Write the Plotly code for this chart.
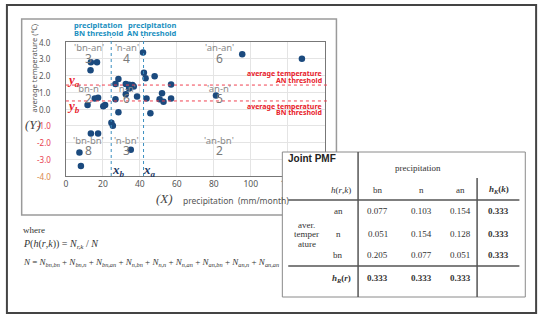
import plotly.graph_objects as go

W, H = 550, 321

# ---------------- data ----------------
precip = [13.5, 16.8, 13.3,
          41.7, 28.4, 26.8, 32.4,
          42.2, 43.1, 48.0, 56.9, 95.4, 127.7,
          34.2, 36.0, 36.7, 34.2, 32.4, 38.5, 26.8,
          52.0, 43.6, 50.7, 56.9, 81.2,
          15.6, 17.4,
          11.7, 20.2, 21.2, 13.5, 17.4, 7.3, 8.1,
          28.4, 24.6, 25.4, 35.1,
          52.8, 45.7]
temp = [2.79, 2.79, 2.31,
        3.38, 1.79, 1.49, 1.49,
        2.17, 1.83, 1.95, 1.47, 3.27, 3.0,
        1.45, 1.43, 1.35, 1.23, 0.88, 0.75, 0.58,
        0.94, 0.62, 0.58, 0.62, 0.80,
        0.62, 0.67,
        0.24, 0.17, 0.24, -1.47, -1.47, -2.59, -3.40,
        -0.20, -0.82, -1.00, -2.43,
        0.44, -0.26]

x_bn_threshold = 24.5
x_an_threshold = 42.0
y_an_threshold = 1.43
y_bn_threshold = 0.48

quad_names = ["'bn-an'", "'n-an'", "'an-an'",
              "'bn-n'", "'n-n'", "'an-n'",
              "'bn-bn'", "'n-bn'", "'an-bn'"]
quad_counts = [3, 4, 6, 2, 6, 5, 8, 3, 2]

y_ticks = [-4, -3, -2, -1, 0, 1, 2, 3, 4]
x_ticks = [0, 20, 40, 60, 80, 100, 120, 140]

pmf_rows = ["an", "n", "bn"]
pmf_cols = ["bn", "n", "an"]
pmf = [[0.077, 0.103, 0.154],
       [0.051, 0.154, 0.128],
       [0.205, 0.077, 0.051]]
marg_k = [0.333, 0.333, 0.333]
marg_r = [0.333, 0.333, 0.333]

# ---------------- geometry helpers ----------------
def px(x):
    return x / W

def py(y):
    return 1 - y / H

PL, PR, PT, PB = 65, 328, 42, 176

SANS = "Noto Sans, Liberation Sans, sans-serif"
SERIF = "Liberation Serif, DejaVu Serif, serif"
NARROW = "Liberation Sans Narrow, Liberation Sans, sans-serif"

fig = go.Figure()

fig.add_trace(go.Scatter(
    x=precip, y=temp, mode="markers",
    marker=dict(size=6.5, color="#1b4a7e"),
    hoverinfo="skip", showlegend=False))

fig.update_layout(
    width=W, height=H,
    margin=dict(l=0, r=0, t=0, b=0),
    paper_bgcolor="white", plot_bgcolor="white",
    xaxis=dict(domain=[px(PL), px(PR)], range=[0, 140],
               tickvals=x_ticks, ticktext=[str(v) for v in x_ticks],
               showgrid=True, gridcolor="#e4e4e4", gridwidth=1,
               zeroline=False, showline=True, linecolor="#777", linewidth=1,
               mirror=True, ticks="",
               tickfont=dict(family=SANS, size=8.5, color="#555")),
    yaxis=dict(domain=[py(PB), py(PT)], range=[-4, 4],
               tickvals=y_ticks, showticklabels=False,
               showgrid=True, gridcolor="#e4e4e4", gridwidth=1,
               zeroline=False, showline=True, linecolor="#777", linewidth=1,
               mirror=True, ticks=""),
)

# y tick labels placed through the y axis scale
for v in y_ticks:
    col = "#555" if v >= 0 else ("#d9884a" if v < -3.5 else "#e8404f")
    fig.add_annotation(x=px(51), y=v, xref="paper", yref="y",
                       text=f"{v:.1f}", showarrow=False, xanchor="right",
                       yanchor="middle", borderpad=0,
                       font=dict(family=SANS, size=8, color=col))

# ---------------- frames ----------------
fig.add_shape(type="rect", xref="paper", yref="paper",
              x0=px(5), x1=px(543), y0=py(313), y1=py(5),
              line=dict(color="#444", width=2), fillcolor="rgba(0,0,0,0)", layer="below")
fig.add_shape(type="rect", xref="paper", yref="paper",
              x0=px(20), x1=px(340), y0=py(215), y1=py(19),
              line=dict(color="#9a9a9a", width=1.5), fillcolor="rgba(0,0,0,0)", layer="below")

# ---------------- threshold lines ----------------
for xv in (x_bn_threshold, x_an_threshold):
    fig.add_shape(type="line", xref="x", yref="paper",
                  x0=xv, x1=xv, y0=py(PB), y1=py(37),
                  line=dict(color="#3a8fc0", width=1, dash="dot"), layer="above")
for yv in (y_an_threshold, y_bn_threshold):
    fig.add_shape(type="line", xref="paper", yref="y",
                  x0=px(PL), x1=px(332), y0=yv, y1=yv,
                  line=dict(color="#f04050", width=1, dash="dot"), layer="above")

def txt(x, y, text, size, color, family=SANS, xanchor="center", angle=0):
    fig.add_annotation(x=px(x), y=py(y), xref="paper", yref="paper",
                       text=text, showarrow=False, textangle=angle,
                       font=dict(size=size, color=color, family=family),
                       xanchor=xanchor, yanchor="middle", borderpad=0)

# threshold labels
BLUE = "#1a8fc0"
txt(98, 25, "<b>precipitation</b>", 7.5, BLUE)
txt(98, 33, "<b>BN threshold</b>", 7.5, BLUE)
txt(153, 25, "<b>precipitation</b>", 7.5, BLUE)
txt(153, 33, "<b>AN threshold</b>", 7.5, BLUE)
RED = "#e8202a"
txt(326, 73, "<b>average temperature</b>", 7, RED, xanchor="right")
txt(326, 80, "<b>AN threshold</b>", 7, RED, xanchor="right")
txt(326, 106, "<b>average temperature</b>", 7, RED, xanchor="right")
txt(326, 113, "<b>BN threshold</b>", 7, RED, xanchor="right")

txt(73, 80, "<b><i>y<sub>a</sub></i></b>", 13, "#e8202a", family=SERIF)
txt(73, 107, "<b><i>y<sub>b</sub></i></b>", 13, "#e8202a", family=SERIF)
txt(118, 171, "<b><i>x<sub>b</sub></i></b>", 13, "#1f3a66", family=SERIF)
txt(150, 171, "<b><i>x<sub>a</sub></i></b>", 13, "#1f3a66", family=SERIF)

# quadrant labels
qx = [88, 127, 221]
qy_name = [47, 88, 141]
qy_num = [58, 98, 151]
for i, (nm, cnt) in enumerate(zip(quad_names, quad_counts)):
    r, c = divmod(i, 3)
    txt(qx[c], qy_name[r], nm, 9.5, "#8a8a8a")
    txt(qx[c], qy_num[r], str(cnt), 12, "#7a7a7a")

# axis titles
txt(33, 68, "average temperature (\u2103)", 7.5, "#555", angle=-90)
txt(32, 125, "<i>(Y)</i>", 13, "#444", family=SERIF)
txt(165, 198, "<i>(X)</i>", 13, "#444", family=SERIF)
txt(238, 200, "precipitation  (mm/month)", 8.5, "#555")

# equations
txt(20, 230, "where", 9, "#333", family=SERIF, xanchor="left")
txt(20, 244, "<i>P</i>(<i>h</i>(<i>r</i>,<i>k</i>)) = <i>N</i><sub><i>r,k</i></sub> / <i>N</i>",
    10, "#333", family=SERIF, xanchor="left")
terms = ["bn,bn", "bn,n", "bn,an", "n,bn", "n,n", "n,an", "an,bn", "an,n", "an,an"]
eq = "<i>N</i> = " + " + ".join(f"<i>N</i><sub><i>{t}</i></sub>" for t in terms)
txt(20, 262, eq, 9, "#333", family=SERIF, xanchor="left")

# ---------------- table ----------------
TL, TR, TT, TB = 285, 532, 152, 297
fig.add_shape(type="rect", xref="paper", yref="paper",
              x0=px(TL), x1=px(TR), y0=py(TB), y1=py(TT),
              line=dict(color="#8a8a8a", width=1), fillcolor="white", layer="above")
fig.add_shape(type="line", xref="paper", yref="paper",
              x0=px(362), x1=px(362), y0=py(TB), y1=py(TT),
              line=dict(color="#555", width=1.5), layer="above")
fig.add_shape(type="line", xref="paper", yref="paper",
              x0=px(483), x1=px(483), y0=py(TB), y1=py(178),
              line=dict(color="#555", width=1.5), layer="above")
for yl in (200, 266):
    fig.add_shape(type="line", xref="paper", yref="paper",
                  x0=px(291), x1=px(526), y0=py(yl), y1=py(yl),
                  line=dict(color="#555", width=1.5), layer="above")

txt(290, 159, "<b>Joint PMF</b>", 10, "#222", family=NARROW, xanchor="left")
txt(423, 168, "precipitation", 9, "#333", family=SERIF)
TC = "#333"
txt(345, 190, "<i>h</i>(<i>r</i>,<i>k</i>)", 9, TC, family=SERIF)
col_x = [382, 426, 466]
for cx, cn in zip(col_x, pmf_cols):
    txt(cx, 190, cn, 9, TC, family=SERIF)
txt(505, 190, "<b><i>h<sub>K</sub></i>(<i>k</i>)</b>", 9, TC, family=SERIF)

row_y = [211, 234, 255]
for ry, rn, vals, mk in zip(row_y, pmf_rows, pmf, marg_k):
    txt(342, ry, rn, 9, TC, family=SERIF)
    for cx, v in zip(col_x, vals):
        txt(cx, ry, f"{v:.3f}", 9, TC, family=SERIF)
    txt(505, ry, f"<b>{mk:.3f}</b>", 9, TC, family=SERIF)

txt(310, 225, "aver.", 9, TC, family=SERIF)
txt(310, 234, "temper", 9, TC, family=SERIF)
txt(310, 244, "ature", 9, TC, family=SERIF)

txt(345, 278, "<b><i>h<sub>R</sub></i>(<i>r</i>)</b>", 9, TC, family=SERIF)
for cx, v in zip(col_x, marg_r):
    txt(cx, 278, f"<b>{v:.3f}</b>", 9, TC, family=SERIF)

fig.write_html("out.html", config={"displayModeBar": False},
               post_script="document.body.style.margin='0';document.body.style.overflow='hidden';")
